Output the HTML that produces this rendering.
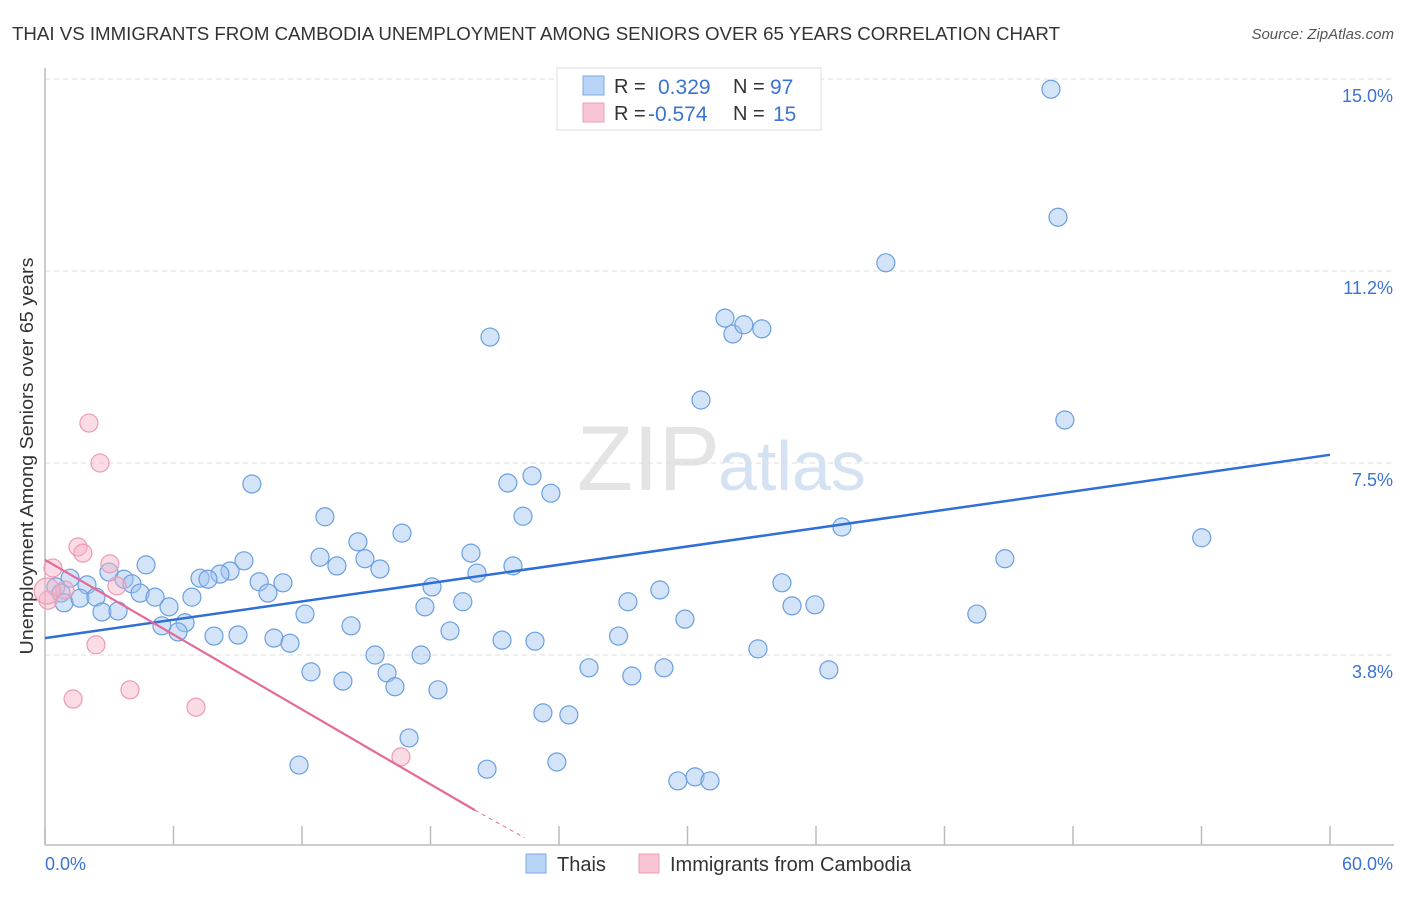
<!DOCTYPE html>
<html><head><meta charset="utf-8">
<style>
body{margin:0;background:#fff;font-family:"Liberation Sans",sans-serif;}
svg text{font-family:"Liberation Sans",sans-serif;}
</style></head>
<body>
<svg id="chart" width="1406" height="892" xmlns="http://www.w3.org/2000/svg">
<text x="12" y="40" font-size="18" fill="#333" textLength="1048" lengthAdjust="spacingAndGlyphs">THAI VS IMMIGRANTS FROM CAMBODIA UNEMPLOYMENT AMONG SENIORS OVER 65 YEARS CORRELATION CHART</text>
<text x="1394" y="39" font-size="15" fill="#555" font-style="italic" text-anchor="end">Source: ZipAtlas.com</text>
<text x="720" y="490" font-size="92" fill="#e4e4e4" text-anchor="end" font-family="Liberation Serif">ZIP</text>
<text x="718" y="490" font-size="70" fill="#d4e2f4">atlas</text>
<text transform="translate(33,456) rotate(-90)" font-size="18" fill="#333" text-anchor="middle" textLength="397" lengthAdjust="spacingAndGlyphs">Unemployment Among Seniors over 65 years</text>
<g id="grid"></g>
<g id="axes"></g>
<g id="marks"></g>
<g>
<rect x="557" y="68" width="264" height="62" fill="#fff" stroke="#ddd"/>
<rect x="583" y="76" width="21" height="19" fill="#b8d4f6" stroke="#7ea9e0"/>
<rect x="583" y="103" width="21" height="19" fill="#f9c4d3" stroke="#eba2b8"/>
<text x="614" y="93" font-size="20" fill="#333">R = </text><text x="658" y="94" font-size="21" fill="#3b73d1">0.329</text>
<text x="733" y="93" font-size="20" fill="#333">N = </text><text x="770" y="94" font-size="21" fill="#3b73d1">97</text>
<text x="614" y="120" font-size="20" fill="#333">R = </text><text x="648" y="121" font-size="21" fill="#3b73d1">-0.574</text>
<text x="733" y="120" font-size="20" fill="#333">N = </text><text x="773" y="121" font-size="21" fill="#3b73d1">15</text>
</g>
<g>
<rect x="526" y="854" width="20" height="19" fill="#b8d4f6" stroke="#7ea9e0"/>
<text x="557" y="871" font-size="20" fill="#333">Thais</text>
<rect x="639" y="854" width="20" height="19" fill="#f9c4d3" stroke="#eba2b8"/>
<text x="670" y="871" font-size="20" fill="#333">Immigrants from Cambodia</text>
</g>
</svg>
<script>
const xTicksPct=[0,6,12,18,24,30,36,42,48,54,60];
const yTickValues=[3.75,7.5,11.25,15];
const yTickLabels=["3.8%","7.5%","11.2%","15.0%"];
const thaiX=[46.97,47.3,39.26,20.78,31.75,32.12,32.63,33.47,30.63,47.62,9.66,22.74,21.61,23.62,13.07,22.32,37.21,54.01,16.67,14.61,12.84,19.89,14.94,13.63,15.64,9.29,4.72,44.82,21.85,20.17,8.64,8.17,7.24,7.61,10.0,11.11,2.99,3.69,4.06,1.96,1.17,0.51,0.75,0.89,1.63,2.38,4.44,5.14,10.41,6.86,18.07,34.41,28.71,27.22,19.51,17.74,34.88,35.95,5.79,2.66,3.41,12.14,43.51,29.88,6.54,5.46,6.21,14.29,18.91,7.89,9.01,10.69,11.44,21.34,22.88,26.78,33.29,17.56,15.41,25.4,28.9,36.6,27.4,12.42,15.97,13.91,16.34,18.35,23.25,24.46,17.0,11.86,20.64,23.9,29.55,30.35,31.05];
const thaiY=[14.8,12.3,11.41,9.96,10.33,10.02,10.2,10.12,8.73,8.34,7.09,7.25,7.11,6.91,6.45,6.46,6.25,6.04,6.13,5.96,5.66,5.74,5.63,5.49,5.43,5.59,5.51,5.63,5.49,5.35,5.39,5.33,5.25,5.23,5.18,5.16,5.37,5.23,5.14,5.12,5.25,5.08,4.96,4.77,4.86,4.88,4.96,4.88,4.96,4.88,5.08,5.16,5.02,4.79,4.79,4.69,4.71,4.73,4.69,4.59,4.61,4.55,4.55,4.45,4.38,4.32,4.2,4.32,4.22,4.12,4.14,4.08,3.98,4.04,4.02,4.12,3.87,3.75,3.75,3.5,3.5,3.46,3.34,3.42,3.4,3.24,3.13,3.07,2.62,2.58,2.13,1.6,1.52,1.66,1.29,1.37,1.29];
const cambX=[2.05,2.57,1.54,1.77,3.03,0.37,3.36,0.93,0.14,2.38,3.97,1.31,7.05,16.62,0.1];
const cambY=[8.28,7.5,5.86,5.74,5.53,5.45,5.1,5.02,4.82,3.95,3.07,2.89,2.73,1.76,5.0];
const thaiTrend=[[0,4.08],[60,7.66]];
const cambTrend=[[0,5.61],[20.07,0.72],[22.4,0.18]];
const X0=45,X1=1330,YB=847,PXY=51.2;
const sx=v=>X0+(X1-X0)*v/60, sy=v=>YB-v*PXY;
const NS="http://www.w3.org/2000/svg";
function mk(tag,attrs,parent){const e=document.createElementNS(NS,tag);for(const k in attrs)e.setAttribute(k,attrs[k]);parent.appendChild(e);return e;}
const grid=document.getElementById('grid'),axes=document.getElementById('axes'),marks=document.getElementById('marks');
yTickValues.forEach((v,i)=>{
 const l=mk('line',{x1:X0,x2:1394,y1:sy(v),y2:sy(v),stroke:'#ddd','stroke-dasharray':'5,4'},grid);
 
 
 const t=mk('text',{x:1393,y:sy(v)+23,'font-size':18,fill:'#3b73d1','text-anchor':'end'},axes);
 t.textContent=yTickLabels[i];
 
 
});
const ya=mk('line',{x1:X0,x2:X0,y1:68,y2:845,stroke:'#bbb','stroke-width':1.5},axes);


const xa=mk('line',{x1:X0,x2:1394,y1:845,y2:845,stroke:'#bbb','stroke-width':1.5},axes);


xTicksPct.forEach(v=>{
 const t=mk('line',{x1:sx(v),x2:sx(v),y1:826,y2:845,stroke:'#bbb','stroke-width':1.5},axes);
 
 
});
const xl0=mk('text',{x:45,y:870,'font-size':18,fill:'#3b73d1'},axes);xl0.textContent='0.0%';


const xl1=mk('text',{x:1393,y:870,'font-size':18,fill:'#3b73d1','text-anchor':'end'},axes);xl1.textContent='60.0%';


thaiX.forEach((x,i)=>{
 const c=mk('circle',{cx:sx(x),cy:sy(thaiY[i]),r:9,fill:'rgba(160,196,240,0.45)',stroke:'#6a9ee0','stroke-width':1.2},marks);
 
 
});
cambX.forEach((x,i)=>{
 const c=mk('circle',{cx:sx(x),cy:sy(cambY[i]),r:i==14?13:9,fill:'rgba(246,178,198,0.45)',stroke:'#ee9ab4','stroke-width':1.2},marks);
 
 
});
const tl=mk('line',{x1:sx(thaiTrend[0][0]),y1:sy(thaiTrend[0][1]),x2:sx(thaiTrend[1][0]),y2:sy(thaiTrend[1][1]),stroke:'#2f6fd6','stroke-width':2.5},marks);


const cl=mk('line',{x1:sx(cambTrend[0][0]),y1:sy(cambTrend[0][1]),x2:sx(cambTrend[1][0]),y2:sy(cambTrend[1][1]),stroke:'#e46a97','stroke-width':2.2},marks);


const cd=mk('line',{x1:sx(cambTrend[1][0]),y1:sy(cambTrend[1][1]),x2:sx(cambTrend[2][0]),y2:sy(cambTrend[2][1]),stroke:'#e46a97','stroke-width':1,'stroke-dasharray':'4,4'},marks);


</script>
</body></html>
